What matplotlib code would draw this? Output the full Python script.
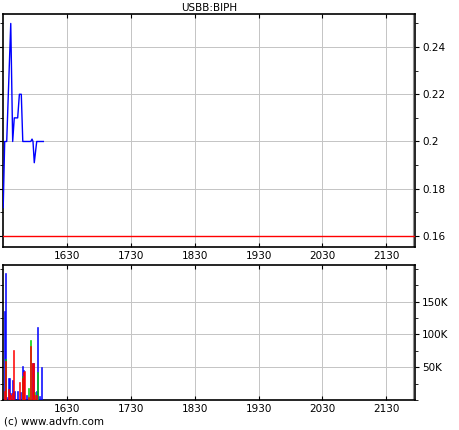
import matplotlib.pyplot as plt
from matplotlib.ticker import FixedLocator, MultipleLocator, FuncFormatter

# Preço (minutos desde 00:00)
price_t = [930, 931.4, 933.3, 934.8, 937.1, 938.9, 940.4, 943.6, 945.2, 947.0,
           948.4, 955.9, 957.1, 958.0, 959.2, 961.5, 967.7]
price_v = [0.172, 0.20, 0.20, 0.22, 0.25, 0.20, 0.21, 0.21, 0.22, 0.22,
           0.20, 0.20, 0.201, 0.20, 0.191, 0.20, 0.20]
ref_price = 0.16

# Volume por minuto
vol_t = [931, 932, 933, 935, 936, 937, 938.5, 940, 941, 943, 945, 946, 948, 949,
         950, 952, 953.5, 956, 958, 959, 961, 962, 964, 966]
vol_blue = [136, 193, 5, 34, 33, 11, 31, 12, 13, 13, 0, 12, 52, 45,
            0, 8, 0, 0, 56, 0, 14, 112, 6, 51]
vol_red = [14, 59, 0, 16, 10, 8, 10, 77, 0, 0, 27, 0, 33, 42,
           44, 0, 5, 82, 56, 8, 8, 0, 0, 0]
vol_green = [0, 62, 0, 0, 0, 0, 0, 0, 0, 0, 0, 0, 36, 0,
             0, 0, 18, 92, 0, 12, 0, 42, 0, 0]

xticks = [990, 1050, 1110, 1170, 1230, 1290]
xlabels = ['1630', '1730', '1830', '1930', '2030', '2130']
x_min, x_max = 929.8, 1317
grid_c = '#c4c4c4'

plt.rcParams['font.size'] = 7.5
fig = plt.figure(figsize=(4.6, 4.3), dpi=100)
ax1 = fig.add_axes([0.0065, 0.4256, 0.8957, 0.5418])
ax2 = fig.add_axes([0.0065, 0.0698, 0.8957, 0.3140])

# Gráfico de preço
ax1.plot(price_t, price_v, color='#0000ff', lw=1.0, zorder=3)
ax1.axhline(ref_price, color='#ff0000', lw=1.0, zorder=3)
ax1.set_ylim(0.1553, 0.254)
ax1.yaxis.set_major_locator(FixedLocator([0.16, 0.18, 0.2, 0.22, 0.24]))
ax1.yaxis.set_minor_locator(MultipleLocator(0.01))
ax1.yaxis.set_major_formatter(FuncFormatter(lambda v, p: f'{v:g}'))
ax1.set_title('USBB:BIPH', fontsize=7.5, pad=2)

# Gráfico de volume
w = 1.0
for vals, cor, z in [(vol_blue, '#0000ff', 3), (vol_green, '#00cc00', 4), (vol_red, '#ff0000', 5)]:
    ax2.bar(vol_t, [v * 1000 for v in vals], width=w, color=cor, edgecolor=cor,
            linewidth=0.4, zorder=z)
ax2.set_ylim(0, 206000)
ax2.yaxis.set_major_locator(FixedLocator([50000, 100000, 150000]))
ax2.yaxis.set_minor_locator(MultipleLocator(25000))
ax2.yaxis.set_major_formatter(FuncFormatter(lambda v, p: f'{int(v / 1000)}K'))

for ax in (ax1, ax2):
    ax.set_xlim(x_min, x_max)
    ax.set_xticks(xticks)
    ax.set_xticklabels(xlabels)
    ax.axvline(1315, color='#909090', lw=0.8, zorder=2)
    ax.grid(True, which='major', color=grid_c, lw=0.7, zorder=1)
    ax.yaxis.tick_right()
    ax.tick_params(axis='y', which='both', right=True, left=True, direction='out',
                   length=3, pad=2, labelsize=7.5)
    ax.tick_params(axis='y', which='minor', length=2)
    ax.tick_params(axis='x', direction='in', length=3, top=True, pad=3, labelsize=7.5)
    for s in ax.spines.values():
        s.set_linewidth(1.2)

fig.text(0.008, 0.013, '(c) www.advfn.com', fontsize=7.5)
fig.savefig('out.png', dpi=100)
